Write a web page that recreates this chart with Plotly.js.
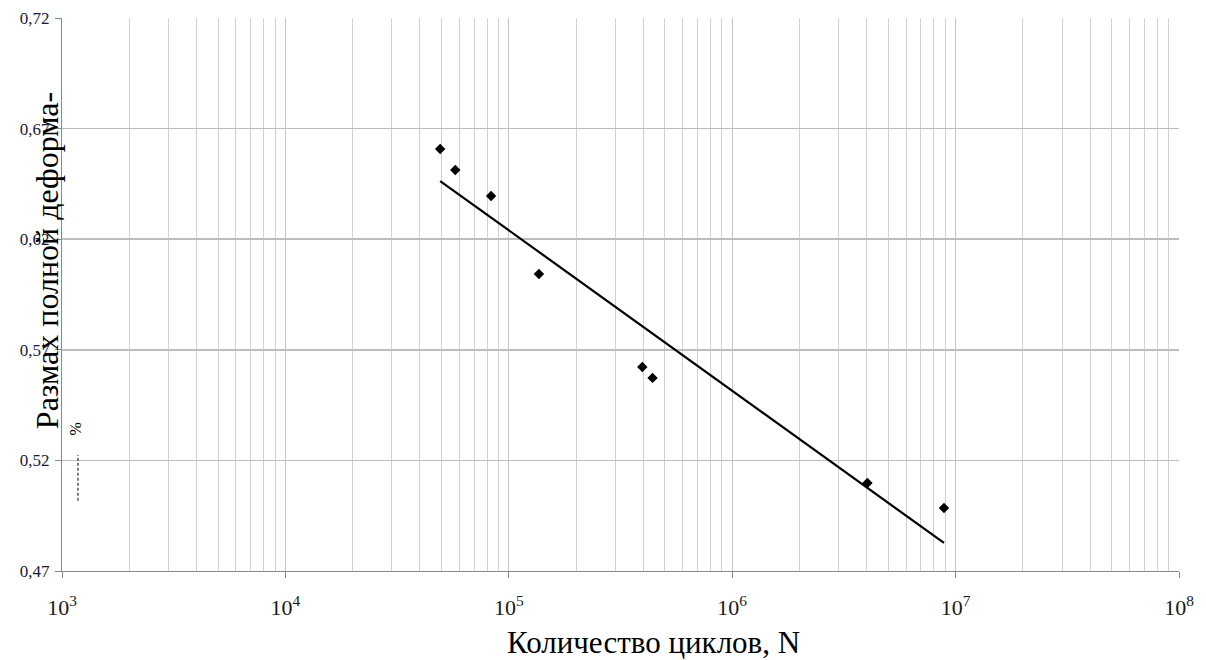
<!DOCTYPE html>
<html>
<head>
<meta charset="utf-8">
<script src="https://cdn.plot.ly/plotly-3.0.1.min.js"></script>
<style>html,body{margin:0;padding:0;background:#fff;}#chart{width:1206px;height:660px;}</style>
</head>
<body>
<div id="chart"></div>
<script>
// Data
var cyclesN = [49300, 57600, 83300, 136400, 396000, 440000, 4030000, 8870000];
var strainRange = [0.6608, 0.6513, 0.6395, 0.6043, 0.5622, 0.5573, 0.5098, 0.4985];
var trendN = [49300, 8870000];
var trendStrain = [0.6463, 0.4827];

var xTickVals = [1e3, 1e4, 1e5, 1e6, 1e7, 1e8];
var xTickText = ['10<sup>3</sup>', '10<sup>4</sup>', '10<sup>5</sup>', '10<sup>6</sup>', '10<sup>7</sup>', '10<sup>8</sup>'];
var yTickVals = [0.47, 0.52, 0.57, 0.62, 0.67, 0.72];
var yTickText = ['0,47', '0,52', '0,57', '0,62', '0,67', '0,72'];

var xTitle = 'Количество циклов, N';
var yTitle = 'Размах полной деформа-';

var font = 'Liberation Serif';

var traces = [
  {
    x: trendN, y: trendStrain, type: 'scatter', mode: 'lines',
    line: {color: '#000', width: 2.2}, hoverinfo: 'skip', showlegend: false
  },
  {
    x: cyclesN, y: strainRange, type: 'scatter', mode: 'markers',
    marker: {symbol: 'diamond', size: 8, color: '#000'}, showlegend: false
  }
];

var layout = {
  width: 1206, height: 660,
  margin: {l: 62, r: 27, t: 18, b: 89},
  paper_bgcolor: '#fff', plot_bgcolor: '#fff',
  font: {family: font, color: '#1a1a1a', size: 16},
  showlegend: false,
  xaxis: {
    type: 'log', range: [3, 8],
    tickmode: 'array', tickvals: xTickVals, ticktext: xTickText,
    ticks: 'outside', ticklen: 6, tickcolor: '#888', tickwidth: 1,
    ticklabelstandoff: 11,
    showgrid: true, gridcolor: '#c4c4c4', gridwidth: 1,
    minor: {dtick: 'D1', showgrid: true, gridcolor: '#d0d0d0', gridwidth: 1, ticks: ''},
    showline: true, linecolor: '#888', linewidth: 1,
    zeroline: false,
    tickfont: {family: font, size: 22, color: '#1a1a1a'}
  },
  yaxis: {
    range: [0.47, 0.72],
    tickmode: 'array', tickvals: yTickVals, ticktext: yTickText,
    ticks: 'outside', ticklen: 6, tickcolor: '#888', tickwidth: 1,
    ticklabelstandoff: 2,
    showgrid: true, gridcolor: '#bdbdbd', gridwidth: 1.5,
    showline: true, linecolor: '#888', linewidth: 1,
    zeroline: false,
    tickfont: {family: font, size: 17, color: '#1a1a3a'}
  },
  annotations: [
    {
      text: xTitle, xref: 'paper', yref: 'paper',
      x: 0.5296, y: -0.129, xanchor: 'center', yanchor: 'middle',
      showarrow: false,
      font: {family: font, size: 31, color: '#000'}
    },
    {
      text: yTitle, xref: 'paper', yref: 'paper',
      x: -0.0135, y: 0.562, xanchor: 'center', yanchor: 'middle',
      textangle: -90, showarrow: false,
      font: {family: font, size: 32, color: '#000'}
    },
    {
      text: '%', xref: 'paper', yref: 'paper',
      x: 0.0118, y: 0.256, xanchor: 'center', yanchor: 'middle',
      textangle: -90, showarrow: false,
      font: {family: font, size: 16, color: '#000'}
    }
  ],
  shapes: [
    {
      type: 'line', xref: 'paper', yref: 'paper',
      x0: 0.0143, x1: 0.0143, y0: 0.127, y1: 0.21,
      line: {color: '#000', width: 1, dash: '3px,2px'}
    }
  ]
};

Plotly.newPlot('chart', traces, layout, {displayModeBar: false, staticPlot: true});
</script>
</body>
</html>
